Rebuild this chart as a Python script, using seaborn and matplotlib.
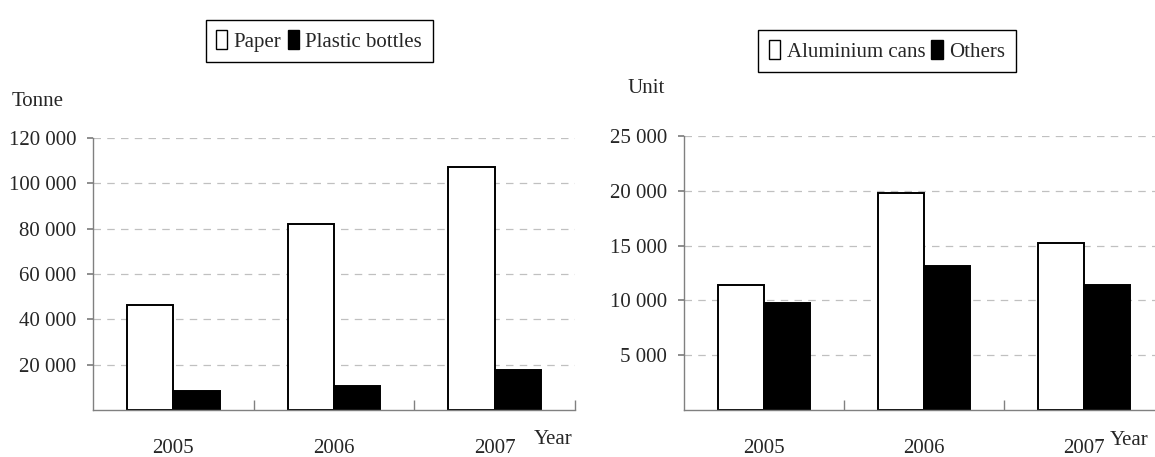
import numpy as np
import pandas as pd
import matplotlib
matplotlib.use("Agg")
import matplotlib.pyplot as plt
import seaborn as sns
from matplotlib.ticker import FuncFormatter, FixedLocator

years = ["2005", "2006", "2007"]

paper = [46400, 81900, 107100]
plastic_bottles = [8500, 10600, 17600]

aluminium_cans = [11400, 19800, 15200]
others = [9800, 13150, 11450]

left_ticks = [20000, 40000, 60000, 80000, 100000, 120000]
right_ticks = [5000, 10000, 15000, 20000, 25000]

sns.set_theme(style="white")
plt.rcParams["font.family"] = ["Liberation Serif", "DejaVu Serif"]
FS = 15

spine_col = "#808080"


def space_thousands(v, pos=None):
    return f"{int(v):,}".replace(",", " ")


def make_df(names, a, b):
    rows = []
    for i, y in enumerate(years):
        rows.append({"year": y, "kind": names[0], "value": a[i]})
        rows.append({"year": y, "kind": names[1], "value": b[i]})
    return pd.DataFrame(rows)


def draw_panel(ax, df, names, ticks, ymax, unit, unit_xy, leg_xy, year_x):
    sns.barplot(data=df, x="year", y="value", hue="kind", hue_order=names,
                palette=["white", "black"], edgecolor="black", linewidth=1.4,
                width=0.575, gap=0, ax=ax, saturation=1, errorbar=None)
    ax.set_xlim(-0.5, 2.5)
    ax.set_ylim(0, ymax)
    ax.set_xlabel("")
    ax.set_ylabel("")
    ax.yaxis.set_major_locator(FixedLocator(ticks))
    ax.yaxis.set_major_formatter(FuncFormatter(space_thousands))
    ax.yaxis.grid(True, linestyle=(0, (6, 5)), color="#c0c0c0", linewidth=0.9)
    ax.set_axisbelow(True)
    for s in ["top", "right"]:
        ax.spines[s].set_visible(False)
    for s in ["left", "bottom"]:
        ax.spines[s].set_color(spine_col)
        ax.spines[s].set_linewidth(1.0)
    ax.tick_params(axis="y", which="major", direction="out", length=4,
                   color=spine_col, pad=8, labelsize=FS, left=True)
    ax.tick_params(axis="x", which="major", length=0, pad=21, labelsize=FS)
    ax.xaxis.set_minor_locator(FixedLocator([0.5, 1.5, 2.5]))
    ax.tick_params(axis="x", which="minor", direction="in", length=7,
                   color=spine_col, bottom=True)
    ax.text(unit_xy[0], unit_xy[1], unit, transform=ax.transAxes,
            fontsize=FS, ha="left", va="center")
    ax.text(year_x, -0.11, "Year", transform=ax.get_xaxis_transform(),
            fontsize=FS, ha="left", va="center")
    sns.move_legend(ax, loc="center", bbox_to_anchor=leg_xy, ncol=2,
                    title=None, frameon=True, fancybox=False,
                    edgecolor="black", handlelength=0.55, handleheight=1.0,
                    handletextpad=0.3, columnspacing=0.3, borderpad=0.5,
                    fontsize=FS, framealpha=1)
    ax.get_legend().get_frame().set_linewidth(1.0)
    for h in ax.get_legend().legend_handles:
        h.set_edgecolor("black")
        h.set_linewidth(1.0)


fig = plt.figure(figsize=(11.55, 4.57), dpi=100)
ax1 = fig.add_axes([93 / 1155, 1 - 410 / 457, 482 / 1155, 272 / 457])
ax2 = fig.add_axes([684 / 1155, 1 - 410 / 457, 480 / 1155, 274 / 457])

draw_panel(ax1, make_df(["Paper", "Plastic bottles"], paper, plastic_bottles),
           ["Paper", "Plastic bottles"], left_ticks, 120000, "Tonne",
           (-0.168, 1.135), (0.469, 1.357), 2.245)
draw_panel(ax2, make_df(["Aluminium cans", "Others"], aluminium_cans, others),
           ["Aluminium cans", "Others"], right_ticks, 25000, "Unit",
           (-0.118, 1.175), (0.423, 1.31), 2.16)

fig.savefig("out.png", dpi=100, facecolor="white")
